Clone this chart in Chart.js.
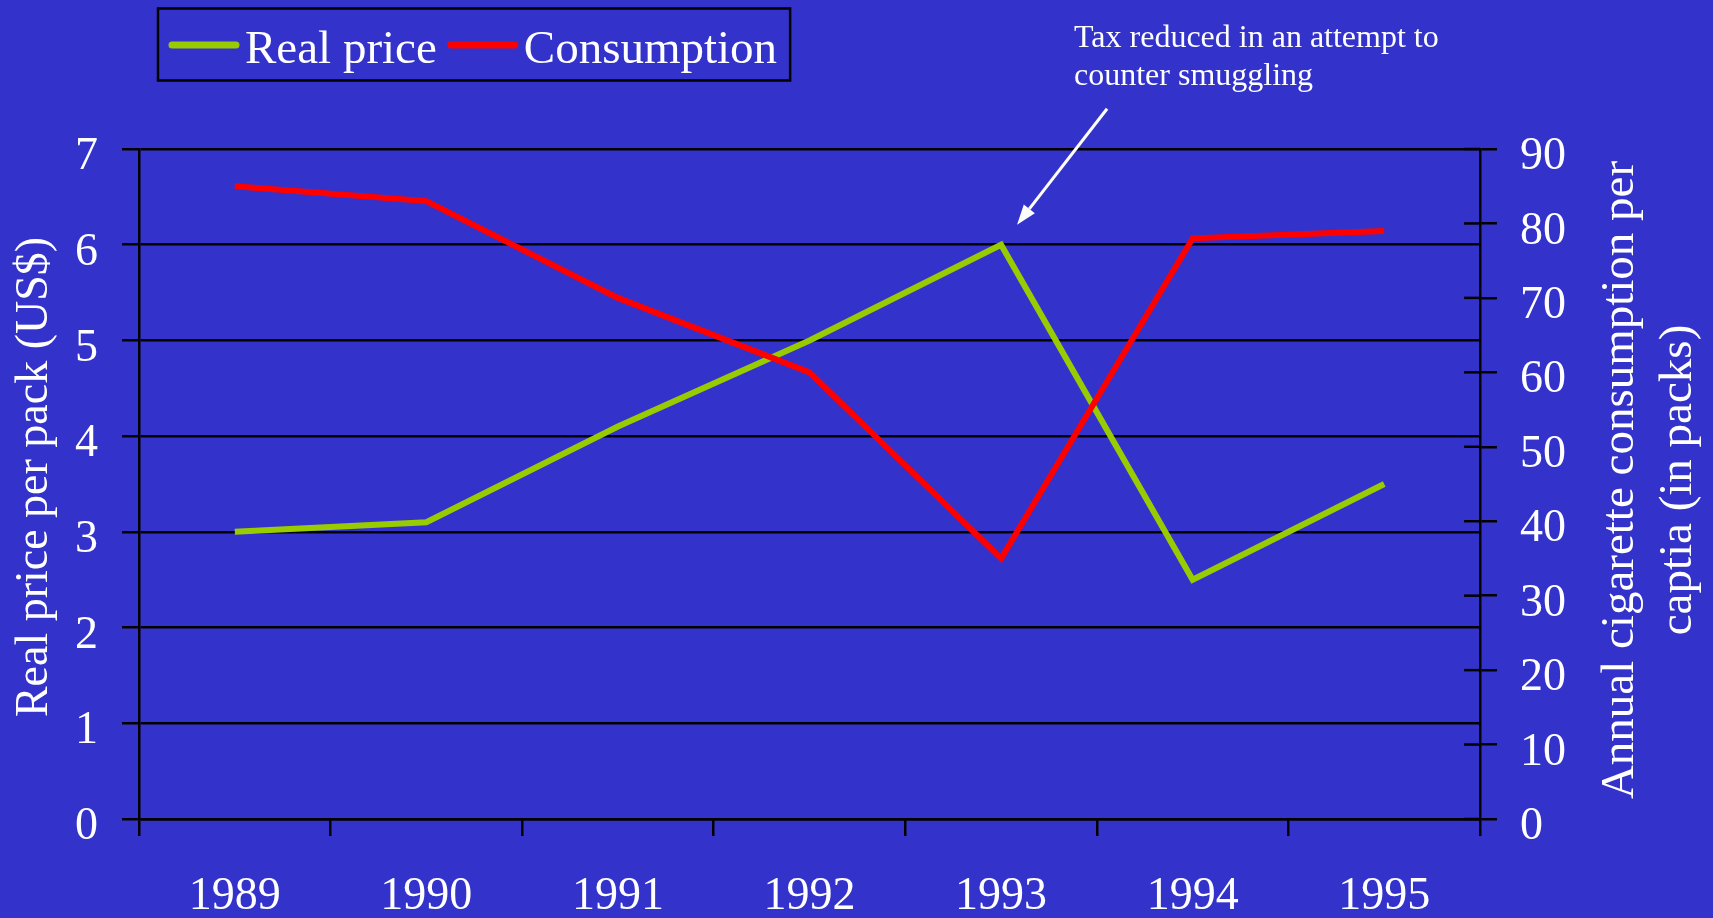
<!DOCTYPE html>
<html>
<head>
<title>Real price and cigarette consumption</title>
<script src="https://cdn.jsdelivr.net/npm/chart.js@4.4.1/dist/chart.umd.min.js"></script>
<style>
    body { margin: 0; background: #3333cc; }
    #wrap { width: 1713px; height: 918px; }
</style>
</head>
<body>

<div id="wrap"><canvas id="priceChart"></canvas></div>

<script>
    // Data
    const years = ["1989", "1990", "1991", "1992", "1993", "1994", "1995"];
    const realPrice = [3.0, 3.1, 4.1, 5.0, 6.0, 2.5, 3.5];
    const consumption = [85, 83, 70, 60, 35, 78, 79];
    const priceTicks = [0, 1, 2, 3, 4, 5, 6, 7];
    const consumptionTicks = [0, 10, 20, 30, 40, 50, 60, 70, 80, 90];

    const leftTitle = "Real price per pack (US$)";
    const rightTitle = ["Annual cigarette consumption per", "captia (in packs)"];
    const note = ["Tax reduced in an attempt to", "counter smuggling"];

    const serif = "'Liberation Serif', 'Times New Roman', serif";
    const bg = "#3333cc";

    // text turned to read from bottom to top
    function upText(c, text, x, y) {
        c.save();
        c.translate(x, y);
        c.rotate(-Math.PI / 2);
        c.fillText(text, 0, 0);
        c.restore();
    }

    // an empty first line pushes the value a little below its tick, as in the original
    const lowLabel = v => ["", String(v)];

    const decorations = {
        id: "decorations",
        beforeDraw(chart) {
            const c = chart.ctx;
            c.save();
            c.fillStyle = bg;
            c.fillRect(0, 0, chart.width, chart.height);
            c.restore();
        },
        afterDraw(chart) {
            const c = chart.ctx;
            const area = chart.chartArea;
            const midY = (area.top + area.bottom) / 2;
            c.save();

            // right axis ticks also reach into the plot
            const y1 = chart.scales.y1;
            c.strokeStyle = "#000";
            c.lineWidth = 2.5;
            y1.ticks.forEach(t => {
                const py = y1.getPixelForValue(t.value);
                c.beginPath();
                c.moveTo(area.right - 16, py);
                c.lineTo(area.right, py);
                c.stroke();
            });

            // axis titles
            c.fillStyle = "#fff";
            c.textAlign = "center";
            c.textBaseline = "alphabetic";
            c.font = "46px " + serif;
            upText(c, leftTitle, 47, midY - 7);
            c.font = "47px " + serif;
            upText(c, rightTitle[0], 1633, midY - 4);
            upText(c, rightTitle[1], 1691, midY - 4);

            // legend
            c.font = "47px " + serif;
            c.textAlign = "left";
            let x = 172;
            chart.data.datasets.forEach(ds => {
                c.strokeStyle = ds.borderColor;
                c.lineWidth = 7;
                c.lineCap = "round";
                c.beginPath();
                c.moveTo(x, 45);
                c.lineTo(x + 64, 45);
                c.stroke();
                c.fillText(ds.label, x + 73, 63);
                x += 73 + c.measureText(ds.label).width + 14;
            });
            c.lineCap = "butt";
            c.strokeStyle = "#000";
            c.lineWidth = 2.5;
            c.strokeRect(158, 8.5, x - 1 - 158, 72);

            // annotation with arrow to the 1993 price peak
            c.font = "32px " + serif;
            c.fillText(note[0], 1074, 47);
            c.fillText(note[1], 1074, 85);

            const pt = chart.getDatasetMeta(0).data[4];
            const tipX = pt.x + 16, tipY = pt.y - 20;
            const tailX = pt.x + 106, tailY = pt.y - 136;
            const ang = Math.atan2(tipY - tailY, tipX - tailX);
            const len = 20, half = 7;
            const bx = tipX - len * Math.cos(ang), by = tipY - len * Math.sin(ang);
            c.strokeStyle = "#fff";
            c.lineWidth = 3;
            c.beginPath();
            c.moveTo(tailX, tailY);
            c.lineTo(bx, by);
            c.stroke();
            c.beginPath();
            c.moveTo(tipX, tipY);
            c.lineTo(bx + half * Math.sin(ang), by - half * Math.cos(ang));
            c.lineTo(bx - half * Math.sin(ang), by + half * Math.cos(ang));
            c.closePath();
            c.fill();

            c.restore();
        }
    };

    const ctx = document.getElementById("priceChart").getContext("2d");

    const chart = new Chart(ctx, {
        type: "line",
        data: {
            labels: years,
            datasets: [
                {
                    label: "Real price",
                    data: realPrice,
                    borderColor: "#99cc00",
                    borderWidth: 6,
                    borderJoinStyle: "miter",
                    pointRadius: 0,
                    tension: 0,
                    yAxisID: "y",
                    order: 1
                },
                {
                    label: "Consumption",
                    data: consumption,
                    borderColor: "#ff0000",
                    borderWidth: 6,
                    borderJoinStyle: "miter",
                    pointRadius: 0,
                    tension: 0,
                    yAxisID: "y1",
                    order: 0
                }
            ]
        },
        options: {
            responsive: true,
            maintainAspectRatio: false,
            animation: false,
            layout: {
                padding: { left: 75, right: 147, top: 149, bottom: 0 }
            },
            plugins: {
                legend: { display: false },
                tooltip: { enabled: false }
            },
            scales: {
                x: {
                    offset: true,
                    afterFit: s => { s.height = 99; },
                    grid: { offset: true, drawOnChartArea: false, color: "#000", lineWidth: 2.5, tickLength: 17 },
                    border: { color: "#000", width: 2.5 },
                    ticks: {
                        color: "#fff",
                        padding: 38,
                        maxRotation: 0,
                        font: { family: serif, size: 46, lineHeight: 1.0 }
                    }
                },
                y: {
                    position: "left",
                    min: priceTicks[0],
                    max: priceTicks[priceTicks.length - 1],
                    afterBuildTicks: s => { s.ticks = priceTicks.map(v => ({ value: v })); },
                    afterFit: s => { s.width = 64; },
                    grid: { color: "#000", lineWidth: 2.5, tickLength: 17 },
                    border: { color: "#000", width: 2.5 },
                    ticks: {
                        color: "#fff",
                        padding: 24,
                        callback: lowLabel,
                        font: { family: serif, size: 46, lineHeight: 0.35 }
                    }
                },
                y1: {
                    position: "right",
                    min: consumptionTicks[0],
                    max: consumptionTicks[consumptionTicks.length - 1],
                    afterBuildTicks: s => { s.ticks = consumptionTicks.map(v => ({ value: v })); },
                    afterFit: s => { s.width = 86; },
                    grid: { drawOnChartArea: false, color: "#000", lineWidth: 2.5, tickLength: 17 },
                    border: { color: "#000", width: 2.5 },
                    ticks: {
                        color: "#fff",
                        padding: 23,
                        callback: lowLabel,
                        font: { family: serif, size: 46, lineHeight: 0.35 }
                    }
                }
            }
        },
        plugins: [decorations]
    });
</script>
</body>
</html>
